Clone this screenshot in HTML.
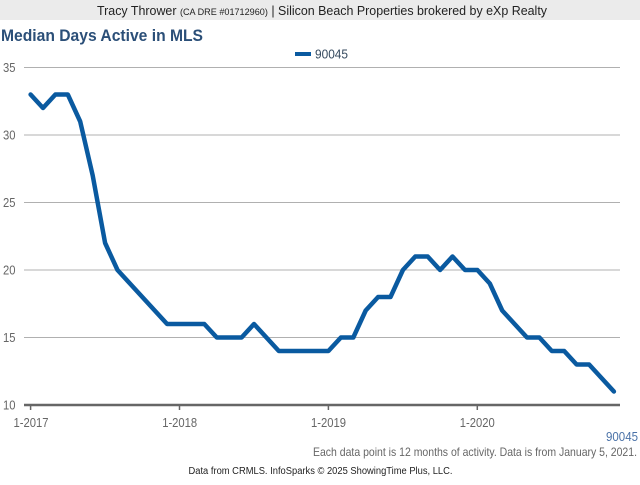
<!DOCTYPE html>
<html><head><meta charset="utf-8"><style>
html,body{margin:0;padding:0;background:#fff;}
body{width:640px;height:480px;overflow:hidden;font-family:"Liberation Sans",Arial,sans-serif;}
</style></head><body>
<svg width="640" height="480" viewBox="0 0 640 480" xmlns="http://www.w3.org/2000/svg" font-family="Liberation Sans, Arial, sans-serif">
<rect x="0" y="0" width="640" height="20" fill="#ebebeb"/>
<text x="97" y="15" font-size="13" fill="#222" textLength="450" lengthAdjust="spacingAndGlyphs">Tracy Thrower <tspan font-size="9.5">(CA DRE #01712960)</tspan> | Silicon Beach Properties brokered by eXp Realty</text>
<text x="1" y="41" font-size="16.5" font-weight="bold" fill="#2b4f78" textLength="202" lengthAdjust="spacingAndGlyphs">Median Days Active in MLS</text>
<line x1="295" y1="54" x2="311" y2="54" stroke="#0a5aa0" stroke-width="4"/>
<text x="315" y="58.5" font-size="12.5" fill="#34495e" textLength="33" lengthAdjust="spacingAndGlyphs">90045</text>
<g stroke="#b0b0b0" stroke-width="1">
<line x1="24" y1="67.5" x2="620" y2="67.5"/>
<line x1="24" y1="135" x2="620" y2="135"/>
<line x1="24" y1="202.5" x2="620" y2="202.5"/>
<line x1="24" y1="270" x2="620" y2="270"/>
<line x1="24" y1="337.5" x2="620" y2="337.5"/>
</g>
<line x1="24" y1="405" x2="620" y2="405" stroke="#666" stroke-width="2.5"/>
<g stroke="#666" stroke-width="1.5">
<line x1="30.6" y1="405" x2="30.6" y2="410"/>
<line x1="179.5" y1="405" x2="179.5" y2="410"/>
<line x1="328.4" y1="405" x2="328.4" y2="410"/>
<line x1="477.3" y1="405" x2="477.3" y2="410"/>
</g>
<g font-size="12.5" fill="#666">
<text x="3" y="72" textLength="12.5" lengthAdjust="spacingAndGlyphs">35</text>
<text x="3" y="139.5" textLength="12.5" lengthAdjust="spacingAndGlyphs">30</text>
<text x="3" y="207" textLength="12.5" lengthAdjust="spacingAndGlyphs">25</text>
<text x="3" y="274.5" textLength="12.5" lengthAdjust="spacingAndGlyphs">20</text>
<text x="3" y="342" textLength="12.5" lengthAdjust="spacingAndGlyphs">15</text>
<text x="3" y="409.5" textLength="12.5" lengthAdjust="spacingAndGlyphs">10</text>
<text x="13.5" y="427" textLength="35" lengthAdjust="spacingAndGlyphs">1-2017</text>
<text x="162.2" y="427" textLength="35" lengthAdjust="spacingAndGlyphs">1-2018</text>
<text x="311" y="427" textLength="35" lengthAdjust="spacingAndGlyphs">1-2019</text>
<text x="459.8" y="427" textLength="35" lengthAdjust="spacingAndGlyphs">1-2020</text>
</g>
<polyline fill="none" stroke="#0a5aa0" stroke-width="4.5" stroke-linejoin="round" stroke-linecap="round" points="30.6,94.5 43.0,108.0 55.4,94.5 67.8,94.5 80.2,121.5 92.7,175.5 105.1,243.0 117.5,270.0 129.9,283.5 142.3,297.0 154.7,310.5 167.1,324.0 179.5,324.0 191.9,324.0 204.3,324.0 216.8,337.5 229.2,337.5 241.6,337.5 254.0,324.0 266.4,337.5 278.8,351.0 291.2,351.0 303.6,351.0 316.0,351.0 328.4,351.0 340.9,337.5 353.3,337.5 365.7,310.5 378.1,297.0 390.5,297.0 402.9,270.0 415.3,256.5 427.7,256.5 440.1,270.0 452.5,256.5 465.0,270.0 477.4,270.0 489.8,283.5 502.2,310.5 514.6,324.0 527.0,337.5 539.4,337.5 551.8,351.0 564.2,351.0 576.6,364.5 589.1,364.5 601.5,378.0 613.9,391.5"/>
<text x="606" y="441" font-size="12.5" fill="#4a72a8" textLength="32" lengthAdjust="spacingAndGlyphs">90045</text>
<text x="313" y="456" font-size="12" fill="#666" textLength="324" lengthAdjust="spacingAndGlyphs">Each data point is 12 months of activity. Data is from January 5, 2021.</text>
<text x="188.5" y="474" font-size="10" fill="#222" textLength="264" lengthAdjust="spacingAndGlyphs">Data from CRMLS. InfoSparks © 2025 ShowingTime Plus, LLC.</text>
</svg>
</body></html>
